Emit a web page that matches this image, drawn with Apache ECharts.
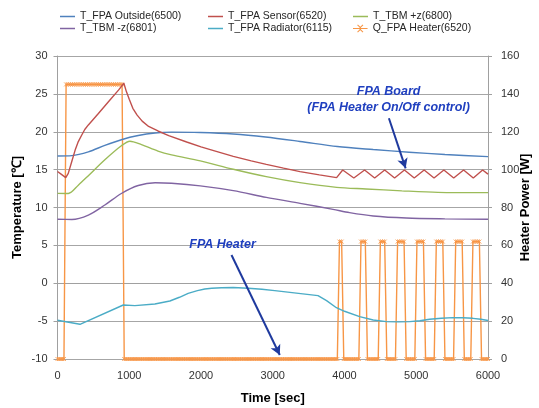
<!DOCTYPE html>
<html><head><meta charset="utf-8">
<script src="https://cdn.jsdelivr.net/npm/echarts@6/dist/echarts.min.js"></script>
<style>html,body{margin:0;padding:0;background:#fff}#c{width:539px;height:408px}</style>
</head><body><div id="c"></div>
<script>
// ---- data ----
const seriesNames = ['T_FPA Outside(6500)','T_FPA Sensor(6520)','T_TBM +z(6800)','T_TBM -z(6801)','T_FPA Radiator(6115)','Q_FPA Heater(6520)'];

const outsideT = [0,200,430,660,890,1125,1360,1590,1990,2450,2900,3380,3900,4400,4900,5400,6000];
const outsideV = [16.8,16.85,17.35,18.2,18.95,19.5,19.83,19.95,19.9,19.7,19.3,18.72,18.05,17.65,17.3,17.0,16.72];

const sensorT = [0,50,115,150,200,250,290,340,380,430,570,710,850,925,960,1000,1050,1110,1180,1270,1400,1550,1800,2000,2200,2450,2700,2910,3150,3380,3650,3890,
  3975,4130,4280,4420,4560,4698,4835,4972,5110,5248,5385,5522,5660,5795,5925,6000];
const sensorV = [14.75,14.4,13.95,14.5,16.1,17.7,18.7,19.6,20.3,20.9,22.4,23.95,25.5,26.4,25.3,24.3,23.1,22.2,21.4,20.7,20.1,19.5,18.65,18.0,17.45,16.75,16.15,15.7,15.2,14.73,14.3,13.94,
  14.95,13.9,14.95,13.9,14.95,13.9,14.95,13.9,14.95,13.9,14.95,13.9,14.95,13.9,14.95,14.4];

const tbmPzT = [0,150,290,430,660,890,1010,1170,1400,1590,1990,2450,2910,3380,3890,4300,4800,5300,6000];
const tbmPzV = [11.87,11.85,12.95,14.2,16.3,18.15,18.75,18.3,17.45,16.95,16.15,15.05,14.07,13.28,12.66,12.45,12.2,12.0,11.96];

const tbmMzT = [0,200,430,660,890,1125,1360,1590,1990,2450,2910,3380,3840,4070,4400,4860,5400,6000];
const tbmMzV = [8.44,8.42,9.0,10.33,11.85,12.9,13.27,13.2,12.85,12.22,11.34,10.55,9.76,9.32,8.88,8.61,8.5,8.44];

const radT = [0,313,917,1079,1357,1566,1700,1821,1950,2053,2150,2286,2450,2657,2850,3028,3631,3750,3887,4000,4211,4400,4583,4750,4907,5050,5186,5350,5510,5650,5789,5900,6000];
const radV = [-4.88,-5.42,-2.87,-2.96,-2.74,-2.34,-1.85,-1.33,-0.98,-0.76,-0.66,-0.59,-0.57,-0.66,-0.8,-0.97,-1.64,-2.3,-3.23,-3.7,-4.41,-4.85,-5.07,-5.1,-5.07,-4.95,-4.76,-4.62,-4.54,-4.55,-4.63,-4.75,-4.92];

const heaterT = [
  0,30,60,90,120,150,180,210,240,270,
  300,330,360,390,420,450,480,510,540,570,
  600,630,660,690,720,750,780,810,840,870,
  900,930,960,990,1020,1050,1080,1110,1140,1170,
  1200,1230,1260,1290,1320,1350,1380,1410,1440,1470,
  1500,1530,1560,1590,1620,1650,1680,1710,1740,1770,
  1800,1830,1860,1890,1920,1950,1980,2010,2040,2070,
  2100,2130,2160,2190,2220,2250,2280,2310,2340,2370,
  2400,2430,2460,2490,2520,2550,2580,2610,2640,2670,
  2700,2730,2760,2790,2820,2850,2880,2910,2940,2970,
  3000,3030,3060,3090,3120,3150,3180,3210,3240,3270,
  3300,3330,3360,3390,3420,3450,3480,3510,3540,3570,
  3600,3630,3660,3690,3720,3750,3780,3810,3840,3870,
  3900,3930,3960,3990,4020,4050,4080,4110,4140,4170,
  4200,4230,4260,4290,4320,4350,4380,4410,4440,4470,
  4500,4530,4560,4590,4620,4650,4680,4710,4740,4770,
  4800,4830,4860,4890,4920,4950,4980,5010,5040,5070,
  5100,5130,5160,5190,5220,5250,5280,5310,5340,5370,
  5400,5430,5460,5490,5520,5550,5580,5610,5640,5670,
  5700,5730,5760,5790,5820,5850,5880,5910,5940,5970,
  6000];
const heaterP = [
  0,0,0,0,145,145,145,145,145,145,
  145,145,145,145,145,145,145,145,145,145,
  145,145,145,145,145,145,145,145,145,145,
  145,0,0,0,0,0,0,0,0,0,
  0,0,0,0,0,0,0,0,0,0,
  0,0,0,0,0,0,0,0,0,0,
  0,0,0,0,0,0,0,0,0,0,
  0,0,0,0,0,0,0,0,0,0,
  0,0,0,0,0,0,0,0,0,0,
  0,0,0,0,0,0,0,0,0,0,
  0,0,0,0,0,0,0,0,0,0,
  0,0,0,0,0,0,0,0,0,0,
  0,0,0,0,0,0,0,0,0,0,
  0,62,62,0,0,0,0,0,0,0,
  0,62,62,62,0,0,0,0,0,0,
  62,62,62,0,0,0,0,0,62,62,
  62,62,0,0,0,0,0,62,62,62,
  62,0,0,0,0,0,62,62,62,62,
  0,0,0,0,0,62,62,62,62,0,
  0,0,0,62,62,62,62,0,0,0,
  0];

const xTickLabels = [0,1000,2000,3000,4000,5000,6000];
const tempTicks = [-10,-5,0,5,10,15,20,25,30];
const powerTicks = [0,20,40,60,80,100,120,140,160];

const annoBoard = 'FPA Board\n(FPA Heater On/Off control)';
const annoHeater = 'FPA Heater';

// ---- chart ----
const zip = (a, b) => a.map((t, i) => [t, b[i]]);
const colors = ['#4F81BD','#C0504D','#9BBB59','#8064A2','#4BACC6','#F79646'];
const FONT = 'Liberation Sans';
const annoColor = '#1F3FBF';
const STAR = 'path://M0,0L10,10M10,0L0,10M5,0L5,10';
const HEATER_ICON = 'path://M0,3.4L16,3.4L16,4.6L0,4.6Z M4.6,0.4L5.4,-0.4L8,2.2L10.6,-0.4L11.4,0.4L8.8,3L8.8,5L11.4,7.6L10.6,8.4L8,5.8L5.4,8.4L4.6,7.6L7.2,5L7.2,3Z';

const chart = echarts.init(document.getElementById('c'), null, {renderer:'canvas'});
const legendPos = [[60,11],[208,11],[353,11],[60,23],[208,23],[353,23]];
const legends = seriesNames.map((n, i) => ({
  data:[{name:n, icon: i === 5 ? HEATER_ICON : 'rect', itemStyle:{color:colors[i], borderWidth:0}}],
  left:legendPos[i][0], top:legendPos[i][1],
  itemWidth:15, itemHeight: i === 5 ? 8 : 1.5, itemGap:0,
  padding:0, textStyle:{fontFamily:FONT, fontSize:10.5, color:'#262626'}, selectedMode:false
}));

const lineBase = (name, data, idx, smooth) => ({
  name, type:'line', data, yAxisIndex:0, symbol:'none', smooth: smooth ? 0.3 : false,
  lineStyle:{color:colors[idx], width:1.4}, itemStyle:{color:colors[idx]}, silent:true, z:3
});

const radiator = lineBase(seriesNames[4], zip(radT, radV), 4, false);
radiator.markLine = {
  silent:true, symbol:['none','arrow'], symbolSize:[8,10], animation:false,
  lineStyle:{color:'#1F3A9E', width:2, type:'solid'}, label:{show:false},
  data:[
    [{coord:[4619,21.78]},{coord:[4852,15.17]}],
    [{coord:[2425,3.73]},{coord:[3098,-9.47]}]
  ]
};
radiator.markPoint = {
  silent:true, symbol:'circle', symbolSize:0, animation:false,
  label:{show:true, position:'inside', color:annoColor, fontFamily:FONT, fontSize:12.5, fontWeight:'bold', fontStyle:'italic', lineHeight:16, align:'center'},
  data:[
    {coord:[4615,24.23], value:annoBoard, label:{formatter:annoBoard}},
    {coord:[2300,5.14], value:annoHeater, label:{formatter:annoHeater}}
  ]
};

const option = {
  animation:false,
  backgroundColor:'#fff',
  legend: legends,
  grid:{left:57.5, right:51, top:56, bottom:49, containLabel:false, outerBoundsMode:'none'},
  xAxis:{
    type:'value', min:0, max:6000, interval:1000,
    name:'Time [sec]', nameLocation:'middle', nameGap:33, nameMoveOverlap:false,
    nameTextStyle:{fontFamily:FONT, fontSize:13, fontWeight:'bold', color:'#000'},
    axisLine:{show:true, lineStyle:{color:'#A0A0A0'}}, axisTick:{show:false},
    axisLabel:{fontFamily:FONT, fontSize:11, color:'#333', margin:11, formatter:v => xTickLabels.includes(v) ? String(v) : ''},
    splitLine:{show:false}
  },
  yAxis:[{
    type:'value', min:-10, max:30, interval:5, position:'left',
    name:'Temperature [℃]', nameLocation:'middle', nameGap:34, nameMoveOverlap:false,
    nameTextStyle:{fontFamily:FONT, fontSize:13, fontWeight:'bold', color:'#000'},
    axisLine:{show:true, lineStyle:{color:'#A0A0A0'}}, axisTick:{show:true, length:4, lineStyle:{color:'#A0A0A0'}},
    axisLabel:{fontFamily:FONT, fontSize:11, color:'#333', margin:10, formatter:v => tempTicks.includes(v) ? String(v) : ''},
    splitLine:{show:true, lineStyle:{color:'#A6A6A6', width:1}}
  },{
    type:'value', min:0, max:160, interval:20, position:'right',
    name:'Heater Power [W]', nameLocation:'middle', nameGap:31, nameMoveOverlap:false,
    nameTextStyle:{fontFamily:FONT, fontSize:13, fontWeight:'bold', color:'#000'},
    axisLine:{show:true, lineStyle:{color:'#A0A0A0'}}, axisTick:{show:true, length:4, lineStyle:{color:'#A0A0A0'}},
    axisLabel:{fontFamily:FONT, fontSize:11, color:'#333', margin:13, formatter:v => powerTicks.includes(v) ? String(v) : ''},
    splitLine:{show:false}
  }],
  series:[
    lineBase(seriesNames[0], zip(outsideT, outsideV), 0, true),
    lineBase(seriesNames[1], zip(sensorT, sensorV), 1, false),
    lineBase(seriesNames[2], zip(tbmPzT, tbmPzV), 2, true),
    lineBase(seriesNames[3], zip(tbmMzT, tbmMzV), 3, true),
    radiator,
    {
      name:seriesNames[5], type:'line', yAxisIndex:1, data:zip(heaterT, heaterP),
      symbol:STAR, symbolSize:4, showAllSymbol:true,
      lineStyle:{color:colors[5], width:1.4}, itemStyle:{color:'rgba(0,0,0,0)', borderColor:colors[5], borderWidth:0.8},
      silent:true, z:2
    }
  ]
};
chart.setOption(option);
</script>
</body></html>
